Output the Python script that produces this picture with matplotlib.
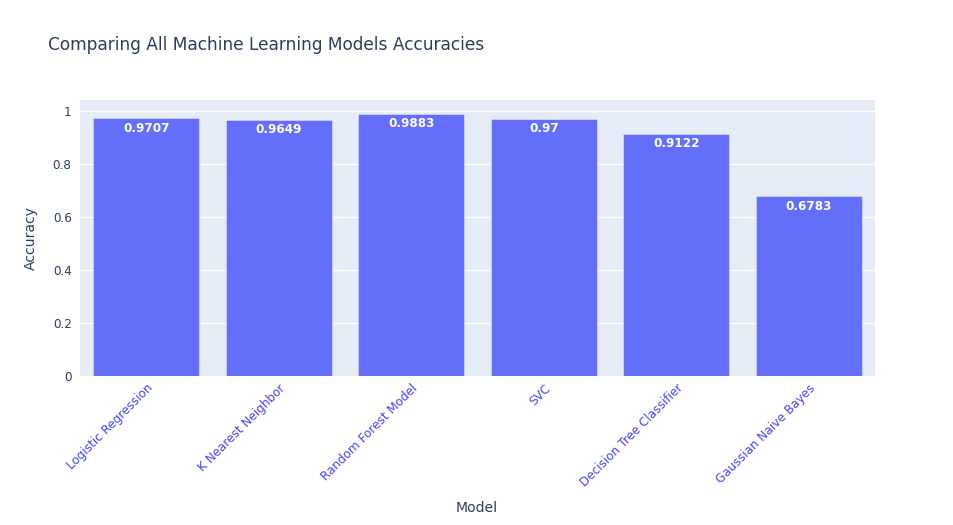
import matplotlib
matplotlib.use("Agg")
import matplotlib.pyplot as plt
import numpy as np

models = ["Logistic Regression", "K Nearest Neighbor", "Random Forest Model",
          "SVC", "Decision Tree Classifier", "Gaussian Naive Bayes"]
accuracy = [0.9707, 0.9649, 0.9883, 0.97, 0.9122, 0.6783]
yticks = [0, 0.2, 0.4, 0.6, 0.8, 1]
ytick_labels = ["0", "0.2", "0.4", "0.6", "0.8", "1"]

txt_col = "#2a3f5f"
px = 72 / 100  # pixel -> point at dpi 100

plt.rcParams['font.family'] = ['DejaVu Sans']

fig = plt.figure(figsize=(9.54, 5.25), dpi=100)
ax = fig.add_axes([80 / 954, 1 - 376 / 525, 795 / 954, 276 / 525])
ax.set_facecolor("#E5ECF6")

x = np.arange(len(models))
bars = ax.bar(x, accuracy, width=0.8, color="#636EFA", edgecolor="#E5ECF6",
              linewidth=0.5 * px, zorder=3)
for b, v in zip(bars, accuracy):
    ax.annotate(str(v), (b.get_x() + b.get_width() / 2, v), xytext=(0, -2.5),
                textcoords="offset points", ha="center", va="top",
                color="white", fontsize=12 * px, fontweight="bold", zorder=4)

ax.set_xlim(-0.5, len(models) - 0.5)
ax.set_ylim(0, max(accuracy) * 1.0526)
ax.set_yticks(yticks)
ax.set_yticklabels(ytick_labels)
ax.grid(axis="y", color="white", linewidth=1, zorder=0)
ax.set_axisbelow(True)
for s in ax.spines.values():
    s.set_visible(False)
ax.tick_params(axis="both", length=0)
ax.tick_params(axis="y", labelsize=12 * px, labelcolor=txt_col, pad=6)

ax.set_xticks(x)
ax.set_xticklabels(models, rotation=45, ha="right", rotation_mode="anchor",
                   fontsize=12 * px, color="#4444ff")
ax.tick_params(axis="x", pad=4)

fig.text(48 / 954, 1 - 45 / 525, "Comparing All Machine Learning Models Accuracies",
         fontsize=17 * px, color=txt_col, va="center", ha="left")
fig.text(477 / 954, 1 - 508 / 525, "Model", fontsize=14 * px, color=txt_col,
         ha="center", va="center")
fig.text(31 / 954, 1 - 238 / 525, "Accuracy", fontsize=14 * px, color=txt_col,
         ha="center", va="center", rotation=90)

fig.savefig("out.png", dpi=100, facecolor="white")
